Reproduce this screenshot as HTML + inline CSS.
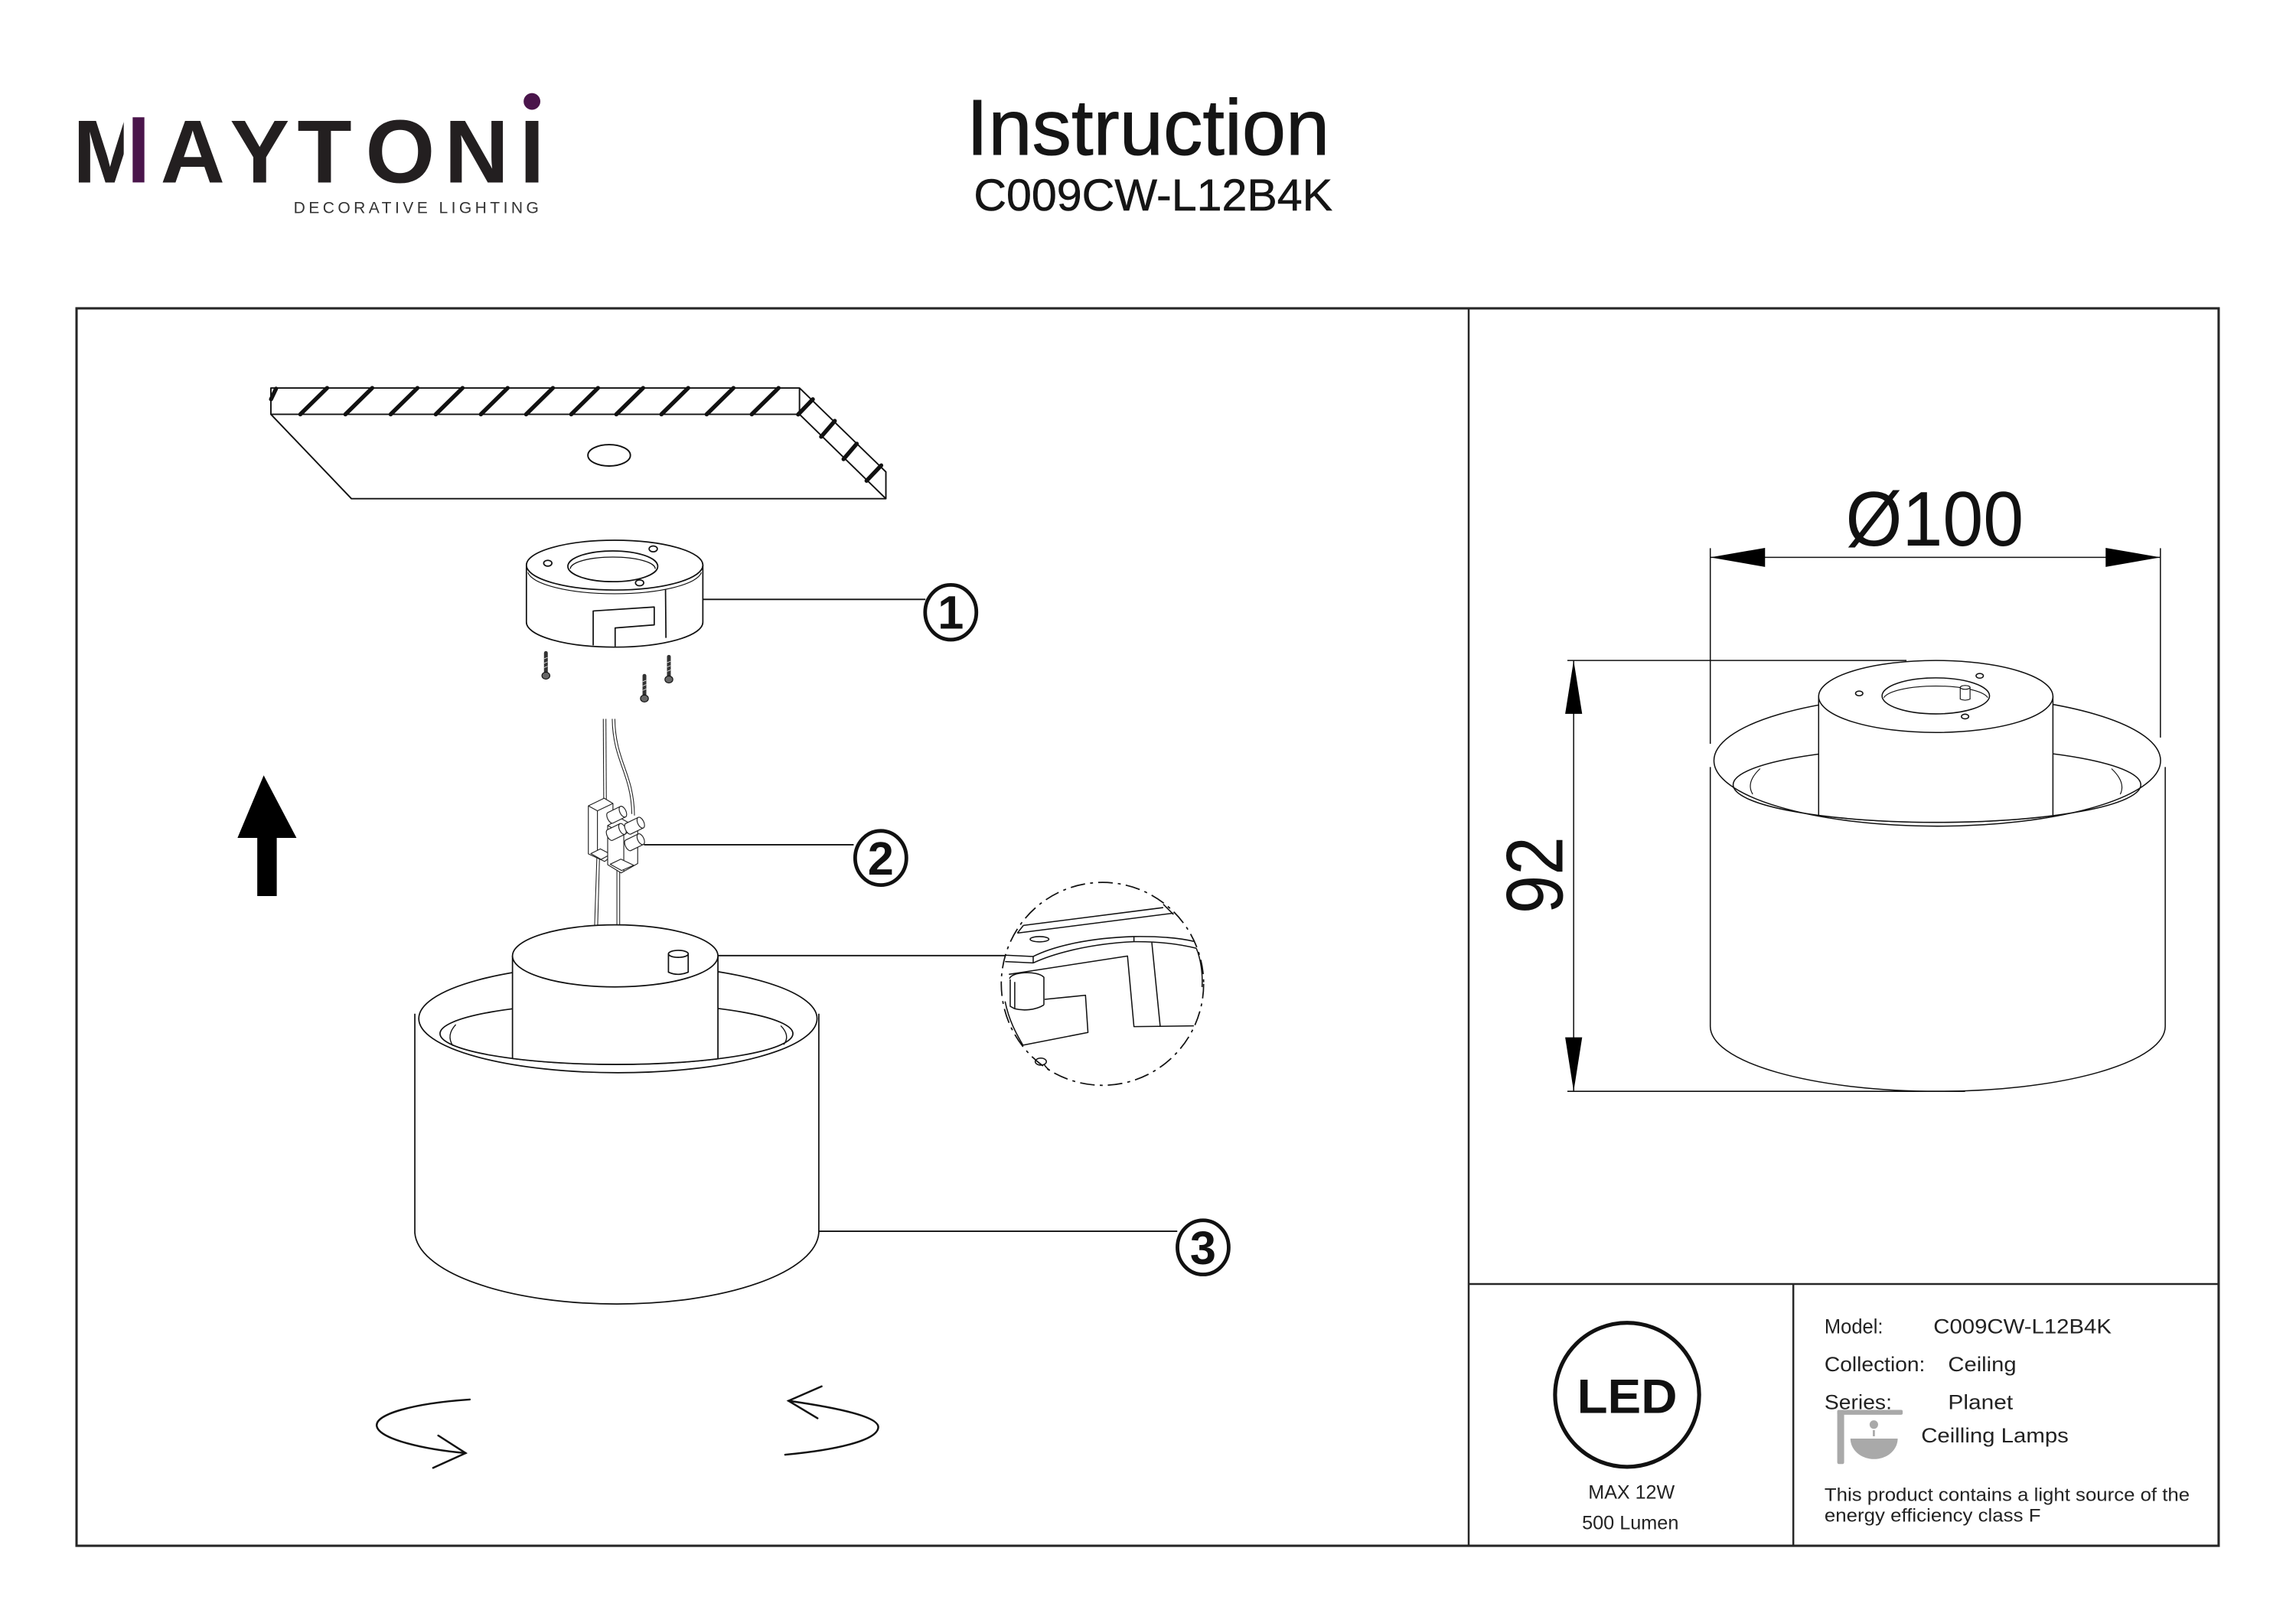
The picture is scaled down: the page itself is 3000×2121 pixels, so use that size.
<!DOCTYPE html>
<html>
<head>
<meta charset="utf-8">
<style>
html,body{margin:0;padding:0;background:#fff;}
svg{display:block;}
text{font-family:"Liberation Sans", Arial, sans-serif;}
</style>
</head>
<body>
<svg xmlns="http://www.w3.org/2000/svg" width="3000" height="2121" viewBox="0 0 1568 1108.55" preserveAspectRatio="none">
<rect x="0" y="0" width="1568" height="1108.55" fill="#fff"/>

<!-- ===== HEADER / LOGO ===== -->
<text x="49.7 109.6 157 203 249.6 303.5 354.8" y="124.6" font-size="61" font-weight="bold" fill="#231f20">MAYTONI</text>
<rect x="84.5" y="77" width="15" height="50" fill="#fff"/>
<rect x="90.6" y="80.1" width="8" height="44.5" fill="#4a154b"/>
<circle cx="363.3" cy="69.3" r="5.7" fill="#4a154b"/>
<text x="200.5" y="145.5" font-size="11" fill="#333" textLength="167.4" lengthAdjust="spacing">DECORATIVE LIGHTING</text>

<text x="660" y="105.6" font-size="54" fill="#151515" stroke="#151515" stroke-width="0.5" textLength="248" lengthAdjust="spacingAndGlyphs">Instruction</text>
<text x="665" y="143.7" font-size="30.5" fill="#151515" stroke="#151515" stroke-width="0.3" textLength="245" lengthAdjust="spacingAndGlyphs">C009CW-L12B4K</text>

<!-- ===== FRAME ===== -->
<rect x="52.27" y="210.6" width="1462.9" height="845.2" fill="none" stroke="#262626" stroke-width="1.6"/>
<g stroke="#262626" stroke-width="1.3">
<line x1="1003" y1="210.6" x2="1003" y2="1055.8"/>
<line x1="1003" y1="877" x2="1515.2" y2="877"/>
<line x1="1224.7" y1="877" x2="1224.7" y2="1055.8"/>
</g>

<!-- ===== CEILING SLAB ===== -->
<g stroke="#111" stroke-width="1" fill="none" stroke-linejoin="round">
<path d="M185,265 L546,265 L605,322.3 L605,340.6 L240,340.6 L185,283 Z"/>
<path d="M185,283 L546,283 L605,340.6"/>
<line x1="546" y1="265" x2="546" y2="283"/>
<ellipse cx="416" cy="311" rx="14.5" ry="7.3"/>
</g>
<g stroke="#111" stroke-width="2.8" stroke-linecap="round">
<line x1="185.1" y1="272.7" x2="188.5" y2="265.5"/>
<line x1="205.1" y1="283" x2="223.4" y2="265"/>
<line x1="235.9" y1="283" x2="254.2" y2="265"/>
<line x1="266.8" y1="283" x2="285.1" y2="265"/>
<line x1="297.6" y1="283" x2="315.9" y2="265"/>
<line x1="328.4" y1="283" x2="346.7" y2="265"/>
<line x1="359.3" y1="283" x2="377.6" y2="265"/>
<line x1="390.1" y1="283" x2="408.4" y2="265"/>
<line x1="420.9" y1="283" x2="439.2" y2="265"/>
<line x1="451.7" y1="283" x2="470" y2="265"/>
<line x1="482.6" y1="283" x2="500.9" y2="265"/>
<line x1="513.4" y1="283" x2="531.7" y2="265"/>
<line x1="545.1" y1="283.1" x2="555.1" y2="272.7"/>
<line x1="560.8" y1="298.3" x2="570.1" y2="287.5"/>
<line x1="576.1" y1="313.6" x2="585.1" y2="303.1"/>
<line x1="591.8" y1="328.4" x2="601.8" y2="317.9"/>
</g>

<!-- ===== PART 1: mounting base ===== -->
<g stroke="#111" stroke-width="0.9" fill="#fff" stroke-linejoin="round">
<path d="M359.5,386 L359.5,425 A60.25,17 0 0 0 480,425 L480,386 Z"/>
<ellipse cx="419.75" cy="386" rx="60.25" ry="17"/>
<path d="M360.5,391 A59.5,16 0 0 0 479,391" fill="none" stroke-width="0.6"/>
<ellipse cx="418.5" cy="386.8" rx="30.7" ry="10.5"/>
<path d="M389.5,388.5 A29,8 0 0 1 447.5,388.5" fill="none" stroke-width="0.7"/>
<ellipse cx="374.1" cy="384.7" rx="2.8" ry="2"/>
<ellipse cx="446.1" cy="374.9" rx="2.8" ry="2"/>
<ellipse cx="436.8" cy="398.1" rx="2.8" ry="2"/>
<path d="M405.1,440.8 L405.1,417.3 L446.8,414.6 L446.8,426.8 L420.1,428.9 L420.1,441.6" fill="none"/>
<path d="M454.5,402.6 L454.8,435.7" fill="none"/>
</g>
<line x1="480" y1="409.4" x2="632" y2="409.4" stroke="#111" stroke-width="1"/>
<ellipse cx="649.3" cy="418.2" rx="17.5" ry="18.7" fill="#fff" stroke="#111" stroke-width="2.5"/>
<text x="649.3" y="429.3" font-size="32" font-weight="bold" text-anchor="middle" fill="#111">1</text>

<!-- screws -->
<g stroke="#333" stroke-linecap="round">
<line x1="372.8" y1="446" x2="372.8" y2="460" stroke-width="2.6"/>
<line x1="456.8" y1="448.6" x2="456.8" y2="462.5" stroke-width="2.6"/>
<line x1="440.1" y1="461.6" x2="440.1" y2="475.5" stroke-width="2.6"/>
</g>
<g stroke="#fff" stroke-width="0.4">
<line x1="371.6" y1="450" x2="374" y2="449"/><line x1="371.6" y1="453" x2="374" y2="452"/><line x1="371.6" y1="456" x2="374" y2="455"/>
<line x1="455.6" y1="452.6" x2="458" y2="451.6"/><line x1="455.6" y1="455.6" x2="458" y2="454.6"/><line x1="455.6" y1="458.6" x2="458" y2="457.6"/>
<line x1="438.9" y1="465.6" x2="441.3" y2="464.6"/><line x1="438.9" y1="468.6" x2="441.3" y2="467.6"/><line x1="438.9" y1="471.6" x2="441.3" y2="470.6"/>
</g>
<g fill="#666" stroke="#111" stroke-width="0.6">
<ellipse cx="372.8" cy="461.5" rx="2.7" ry="2.4"/>
<ellipse cx="456.8" cy="464.1" rx="2.7" ry="2.4"/>
<ellipse cx="440.1" cy="477.1" rx="2.7" ry="2.4"/>
</g>

<!-- ===== UP ARROW ===== -->
<polygon points="180.1,529.6 202.5,572.3 189,572.3 189,612 175.7,612 175.7,572.3 162.2,572.3" fill="#000"/>

<!-- ===== PART 2: wires + terminal block ===== -->
<g stroke="#222" stroke-width="0.55" fill="none">
<path d="M412,491 L412.3,547.5"/>
<path d="M413.8,491 L414.1,547"/>
<path d="M418.1,491 C418.5,520 431,528 431.5,556"/>
<path d="M419.9,491 C420.3,520 433,528 433.3,557"/>
<path d="M407.7,583 L405.3,656"/>
<path d="M409.5,583 L407.5,656"/>
<path d="M421.3,594 L421.3,657"/>
<path d="M423.2,594 L423.2,657"/>
</g>
<g stroke="#222" stroke-width="0.6" fill="#fff" stroke-linejoin="round">
<polygon points="401.8,550.4 412.6,545.2 418.6,548.8 418.6,584 412.9,588.4 401.8,583.2"/>
<polyline points="401.8,550.4 408,553.8 418.6,548.8" fill="none"/>
<line x1="408" y1="553.8" x2="408" y2="586"/>
<polygon points="403.5,583 410,579.8 417,583.5 410.5,587"/>
<polygon points="415,563.8 424,559 435.5,565.3 435.5,589.8 424.2,596.2 415,590.6"/>
<polyline points="415,563.8 426,570 435.5,565.3" fill="none"/>
<line x1="426" y1="570" x2="426" y2="595"/>
<polygon points="416.7,590.3 424,586.8 432.8,591 424.5,594.6"/>
<g transform="translate(425.4,554.4) rotate(-26)"><path d="M-9.5,-4 L0,-4 L0,4 L-9.5,4 A2,4 0 0 1 -9.5,-4 Z"/><ellipse cx="0" cy="0" rx="2.1" ry="4"/></g>
<g transform="translate(425.1,566.2) rotate(-26)"><path d="M-9.5,-4 L0,-4 L0,4 L-9.5,4 A2,4 0 0 1 -9.5,-4 Z"/><ellipse cx="0" cy="0" rx="2.1" ry="4"/></g>
<g transform="translate(437.6,561.9) rotate(-26)"><path d="M-9.5,-4 L0,-4 L0,4 L-9.5,4 A2,4 0 0 1 -9.5,-4 Z"/><ellipse cx="0" cy="0" rx="2.1" ry="4"/></g>
<g transform="translate(437.6,573.2) rotate(-26)"><path d="M-9.5,-4 L0,-4 L0,4 L-9.5,4 A2,4 0 0 1 -9.5,-4 Z"/><ellipse cx="0" cy="0" rx="2.1" ry="4"/></g>
</g>
<line x1="439.8" y1="577" x2="583" y2="577" stroke="#111" stroke-width="1"/>
<ellipse cx="601.5" cy="586" rx="17.5" ry="18.5" fill="#fff" stroke="#111" stroke-width="2.5"/>
<text x="601.5" y="597.5" font-size="32" font-weight="bold" text-anchor="middle" fill="#111">2</text>

<!-- ===== PART 3: lamp body (left) ===== -->
<g stroke="#111" stroke-width="0.9" fill="none" stroke-linejoin="round">
<path d="M283.3,692.4 L283.3,842 A138,50 0 0 0 559.2,842 L559.2,692.4"/>
<ellipse cx="422" cy="695.7" rx="136" ry="37"/>
<ellipse cx="421" cy="706" rx="120.5" ry="21"/>
<path d="M311.3,699.8 Q304.5,707 309.3,714.3" stroke-width="0.7"/>
<path d="M533.2,700.6 Q540,707.5 535.2,713.5" stroke-width="0.7"/>
<path d="M350,652.9 L350,723 A120.5,21 0 0 0 490.3,723.2 L490.3,652.9 Z" fill="#fff"/>
<ellipse cx="420.15" cy="652.9" rx="70.15" ry="21.2" fill="#fff"/>
<path d="M456.5,651.5 L456.5,664 Q463,667 470,664 L470,651.5" fill="#fff"/>
<ellipse cx="463.25" cy="651.5" rx="6.75" ry="2.4" fill="#fff"/>
</g>
<line x1="490.3" y1="652.7" x2="687" y2="652.7" stroke="#111" stroke-width="1"/>
<line x1="559.2" y1="841" x2="804" y2="841" stroke="#111" stroke-width="1"/>
<ellipse cx="821.6" cy="852" rx="17.5" ry="18.5" fill="#fff" stroke="#111" stroke-width="2.5"/>
<text x="821.6" y="863.5" font-size="32" font-weight="bold" text-anchor="middle" fill="#111">3</text>

<!-- ===== DETAIL CIRCLE ===== -->
<ellipse cx="752.9" cy="672" rx="69.1" ry="69.3" fill="none" stroke="#111" stroke-width="0.9" stroke-dasharray="10 3.5 2 3.5"/>
<g stroke="#111" stroke-width="0.8" fill="none" stroke-linejoin="round">
<path d="M694.8,637.3 L801.4,623.7"/>
<path d="M698.9,632.1 L794.4,619.9"/>
<path d="M698.9,632.1 L694.8,637.3"/>
<path d="M794.4,617.6 L801.4,624.6"/>
<ellipse cx="709.9" cy="641.5" rx="6.4" ry="1.8"/>
<path d="M686.4,652.4 L705.6,653.3"/>
<path d="M686.4,656.8 L705.6,657.7"/>
<path d="M705.6,653.3 L705.6,657.7"/>
<path d="M705.6,653.3 C720,646 745,640.5 774.4,639.7 C790,639.5 805,640.5 815.3,643"/>
<path d="M705.6,657.7 C720,651 745,644.5 774.4,643.2 C792,643 806,645 817,647.7"/>
<path d="M774.4,639.7 L774.4,643.2"/>
<path d="M689,665.5 L770,653 L774.4,701.2 L815.3,700.7"/>
<path d="M786.6,643.7 L792.3,700.7"/>
<path d="M817,647.7 C820,655 821.5,665 820.9,674.2"/>
<path d="M689.9,668.9 L689.9,687.3 L693,689"/>
<path d="M693,670.7 L693,689"/>
<path d="M689.5,668.5 C690,664 708,662.5 712.9,667.5 L712.9,686.4"/>
<path d="M693,689 C699,690.5 707,690 712.9,686.4"/>
<path d="M713.4,682.6 L741.3,679.8 L743,705.2 L698.6,713.9 C694,706 689,697 686.4,684"/>
<ellipse cx="710.8" cy="725.1" rx="3.8" ry="2.4"/>
<path d="M713,727 Q715,730 717,731"/>
</g>

<!-- ===== ROTATION ARROWS ===== -->
<g stroke="#111" stroke-width="1.3" fill="none" stroke-linecap="round">
<path d="M320.8,955.9 C282,958.5 256,966 257.3,974 C258.7,983 290,990 318,992.5"/>
<path d="M299.3,980.5 L318,992.5 L295.8,1002.6"/>
<path d="M538.5,956.8 C575,962 600,968 599.8,974.8 C599.5,984 570,990.5 536.2,993.6"/>
<path d="M561.1,946.9 L538.5,956.8 L558.3,968.7"/>
</g>

<!-- ===== RIGHT PANEL: dimensions ===== -->
<g stroke="#111" stroke-width="0.8" fill="none">
<line x1="1168" y1="380.7" x2="1475.4" y2="380.7"/>
<line x1="1168" y1="374.4" x2="1168" y2="508"/>
<line x1="1475.4" y1="374.4" x2="1475.4" y2="503.8"/>
<line x1="1074.7" y1="451.1" x2="1074.7" y2="745.4"/>
<line x1="1070.4" y1="451.1" x2="1302" y2="451.1"/>
<line x1="1070.4" y1="745.4" x2="1342" y2="745.4"/>
</g>
<g fill="#000">
<polygon points="1168,380.7 1205.4,374.2 1205.4,387.2"/>
<polygon points="1475.4,380.7 1438,374.2 1438,387.2"/>
<polygon points="1074.7,451.1 1068.9,487.6 1080.5,487.6"/>
<polygon points="1074.7,745.4 1068.9,708.5 1080.5,708.5"/>
</g>
<text x="1260.4" y="372.6" font-size="53" fill="#111" textLength="121.6" lengthAdjust="spacingAndGlyphs">Ø100</text>
<text transform="translate(1067,624.1) rotate(-90)" x="0" y="0" font-size="55" fill="#111" textLength="52.7" lengthAdjust="spacingAndGlyphs">92</text>

<!-- right lamp -->
<g stroke="#111" stroke-width="0.8" fill="none" stroke-linejoin="round">
<path d="M1168,523.9 L1168,701 A155.35,44.4 0 0 0 1478.7,701 L1478.7,523.9"/>
<ellipse cx="1323" cy="519.5" rx="152.5" ry="44.8"/>
<ellipse cx="1322.8" cy="536" rx="139.2" ry="25.7"/>
<path d="M1202,525 Q1192,534.4 1197,542.5" stroke-width="0.6"/>
<path d="M1442,525 Q1452,534.4 1448,542.5" stroke-width="0.6"/>
<path d="M1242,475.7 L1242,556.9 A139.2,25.7 0 0 0 1402,557.1 L1402,475.7 Z" fill="#fff"/>
<ellipse cx="1322" cy="475.7" rx="80" ry="24.6" fill="#fff"/>
<ellipse cx="1322" cy="475.3" rx="36.7" ry="12.3"/>
<path d="M1286.5,476.5 A36,9.5 0 0 1 1357.5,476.5" stroke-width="0.6"/>
<ellipse cx="1269.7" cy="473.6" rx="2.5" ry="1.6"/>
<ellipse cx="1352" cy="461.6" rx="2.5" ry="1.6"/>
<ellipse cx="1342" cy="489.4" rx="2.5" ry="1.6"/>
<path d="M1338.7,469.5 L1338.7,477.5 Q1342,479 1345.4,477.5 L1345.4,469.5" fill="#fff" stroke-width="0.6"/>
<ellipse cx="1342.05" cy="469.5" rx="3.35" ry="1.3" fill="#fff" stroke-width="0.6"/>
</g>

<!-- ===== BOTTOM INFO: LED ===== -->
<circle cx="1111.2" cy="952.7" r="49.2" fill="none" stroke="#111" stroke-width="2.7"/>
<text x="1077" y="965.2" font-size="33" font-weight="bold" fill="#111" textLength="68.4" lengthAdjust="spacingAndGlyphs">LED</text>
<text x="1084.7" y="1023.6" font-size="13" fill="#222" textLength="59" lengthAdjust="spacingAndGlyphs">MAX 12W</text>
<text x="1080.4" y="1044.5" font-size="13" fill="#222" textLength="66" lengthAdjust="spacingAndGlyphs">500 Lumen</text>

<!-- ===== BOTTOM INFO: details ===== -->
<g fill="#222">
<text x="1246" y="910.7" font-size="14" textLength="40" lengthAdjust="spacingAndGlyphs">Model:</text>
<text x="1320.4" y="910.7" font-size="14" textLength="121.6" lengthAdjust="spacingAndGlyphs">C009CW-L12B4K</text>
<text x="1246" y="936.5" font-size="14" textLength="68.7" lengthAdjust="spacingAndGlyphs">Collection:</text>
<text x="1330.4" y="936.5" font-size="14" textLength="46.6" lengthAdjust="spacingAndGlyphs">Ceiling</text>
<text x="1246" y="962.6" font-size="14" textLength="46" lengthAdjust="spacingAndGlyphs">Series:</text>
<text x="1330.4" y="962.6" font-size="14" textLength="44.3" lengthAdjust="spacingAndGlyphs">Planet</text>
<text x="1312" y="985.2" font-size="14" textLength="100.7" lengthAdjust="spacingAndGlyphs">Ceilling Lamps</text>
<text x="1246" y="1025.3" font-size="12.6" textLength="249.4" lengthAdjust="spacingAndGlyphs">This product contains a light source of the</text>
<text x="1246" y="1039.3" font-size="12.6" textLength="147.7" lengthAdjust="spacingAndGlyphs">energy efficiency class F</text>
</g>
<!-- lamp icon -->
<g fill="#a9a9a9">
<rect x="1254.7" y="963" width="44.7" height="3.3" rx="1"/>
<rect x="1254.7" y="963" width="4.7" height="37" rx="1.2"/>
<circle cx="1279.7" cy="973" r="2.9"/>
<rect x="1279" y="976.8" width="1.4" height="4.2"/>
<path d="M1263.7,982.6 L1296,982.6 A16.15,14 0 0 1 1263.7,982.6 Z"/>
</g>
</svg>
</body>
</html>
